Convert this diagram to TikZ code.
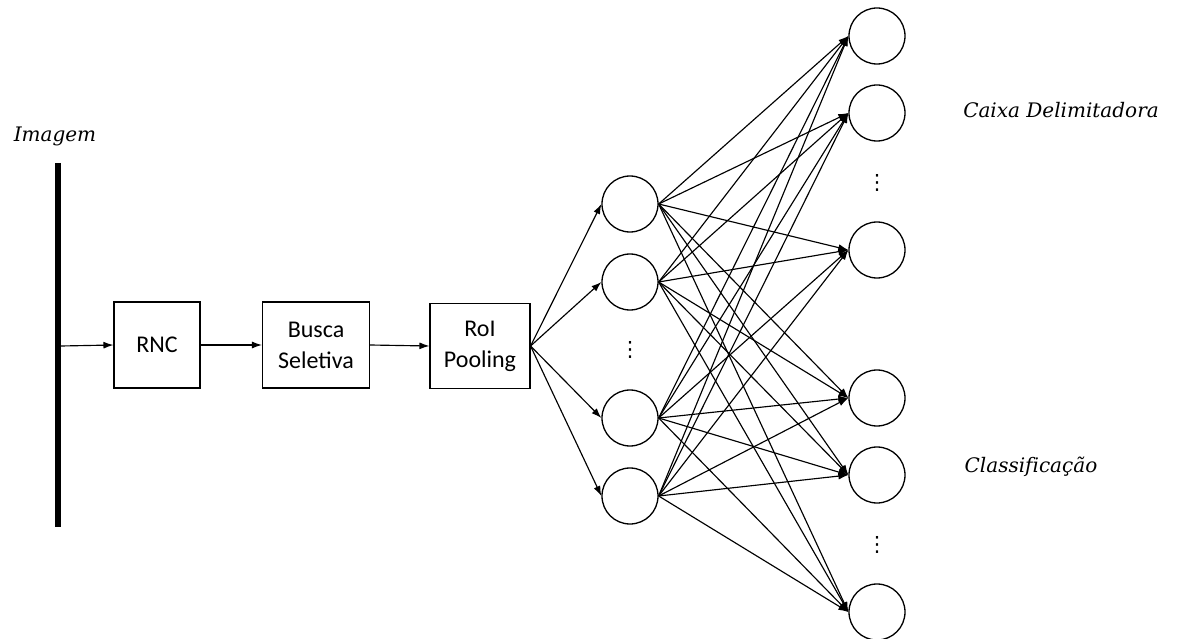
\documentclass[tikz,border=0pt]{standalone}
\usepackage{fontspec}
\setsansfont{Carlito}
\newfontfamily\capfont[Ligatures=NoCommon]{DejaVu Serif}
\newfontfamily\symfont{DejaVu Sans}
\usetikzlibrary{arrows.meta}
\begin{document}
\begin{tikzpicture}[x=1pt,y=-1pt,
  line width=1.2pt,
  every node/.style={inner sep=0pt},
  stage/.style={draw, line width=1.1pt, font=\sffamily\fontsize{24}{31}\selectfont, align=center},
  neuron/.style={draw, circle, line width=1.3pt, minimum size=56pt},
  caption/.style={font=\capfont\itshape\fontsize{20}{24}\selectfont},
  dotstack/.style={font=\symfont\fontsize{21}{24}\selectfont},
  link/.style={-{Latex[length=10pt,width=7pt]}, line width=1.15pt}]
\useasboundingbox (0,0) rectangle (1179,639);

% input image bar
\coordinate (bartop) at (58,163);
\coordinate (barbot) at (58,527);
\draw[line width=6pt] (bartop) -- (barbot);
\coordinate (barout) at (61,346);
\node[caption] (img) at (55,136) {Imagem};

% pipeline stages
\node[stage, minimum width=86pt, minimum height=86pt] (rnc) at (157,345) {RNC};
\node[stage, minimum width=107pt, minimum height=86pt] (busca) at (316,345) {Busca\\Seletiva};
\node[stage, minimum width=100pt, minimum height=85pt] (roi) at (480,346) {RoI\\Pooling};

\draw[link] (barout) -- (rnc.west);
\draw[link] (rnc.east) -- (busca.west);
\draw[link] (busca.east) -- (roi.west);

% hidden layer
\node[neuron] (h1) at (630,204) {};
\node[neuron] (h2) at (630,282) {};
\node[neuron] (h3) at (630,418) {};
\node[neuron] (h4) at (630,496) {};
\node[dotstack] (hd) at (630,350) {⋮};

% output layer
\node[neuron] (o1) at (877,36) {};
\node[neuron] (o2) at (877,113) {};
\node[neuron] (o3) at (877,250) {};
\node[neuron] (o4) at (877,398) {};
\node[neuron] (o5) at (877,475) {};
\node[neuron] (o6) at (877,612) {};
\node[dotstack] (od1) at (877,183) {⋮};
\node[dotstack] (od2) at (877,545) {⋮};

\foreach \h in {h1,h2,h3,h4}
  \draw[link] (roi.east) -- (\h.west);

\foreach \h in {h1,h2,h3,h4}
  \foreach \o in {o1,o2,o3,o4,o5,o6}
    \draw[link] (\h.east) -- (\o.west);

% output labels
\node[caption] (box) at (1061,110) {Caixa Delimitadora};
\node[caption] (cls) at (1031,467) {Classificação};
\end{tikzpicture}
\end{document}
